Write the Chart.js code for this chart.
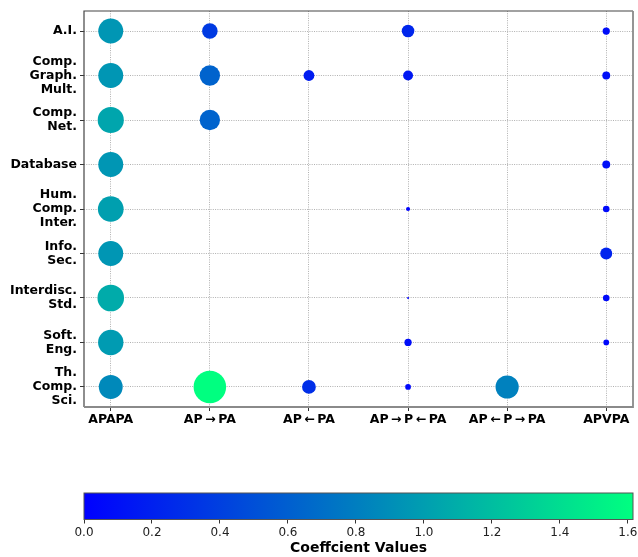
<!DOCTYPE html>
<html>
<head>
<meta charset="UTF-8" />
<title>Coefficient bubbles</title>
<style>
  body { margin: 0; background: #fff; }
  #wrap { position: relative; width: 638px; height: 557px; }
  #main { position: absolute; left: 0; top: 0; }
  #bar { position: absolute; left: 0; top: 480px; }
</style>
<script src="https://cdn.jsdelivr.net/npm/chart.js"></script>
</head>
<body>
<div id="wrap">
  <canvas id="main" width="638" height="460"></canvas>
  <canvas id="bar" width="638" height="77"></canvas>
</div>
<script>
  const topics = [
    "A.I.",
    ["Comp.", "Graph.", "Mult."],
    ["Comp.", "Net."],
    "Database",
    ["Hum.", "Comp.", "Inter."],
    ["Info.", "Sec."],
    ["Interdisc.", "Std."],
    ["Soft.", "Eng."],
    ["Th.", "Comp.", "Sci."]
  ];
  const methods = ["APAPA", "AP\u2009\u2192\u2009PA", "AP\u2009\u2190\u2009PA",
                   "AP\u2009\u2192\u2009P\u2009\u2190\u2009PA", "AP\u2009\u2190\u2009P\u2009\u2192\u2009PA", "APVPA"];

  // one array per method, one value per topic (null = no dot)
  const apapa   = [0.95, 0.95, 1.045, 0.95, 1.01, 0.95, 1.08, 0.98, 0.87];
  const apToPa  = [0.37, 0.63, 0.63, null, null, null, null, null, 1.615];
  const apFromPa = [null, 0.18, null, null, null, null, null, null, 0.29];
  const apPPa   = [0.24, 0.15, null, null, 0.025, null, 0.006, 0.08, 0.05];
  const apPFork = [null, null, null, null, null, null, null, null, 0.82];
  const apvpa   = [0.08, 0.095, null, 0.095, 0.066, 0.22, 0.066, 0.05, null];
  const series = [apapa, apToPa, apFromPa, apPPa, apPFork, apvpa];

  const cbTicks = [0, 0.2, 0.4, 0.6, 0.8, 1.0, 1.2, 1.4, 1.6];
  const vmax = 1.615;

  // matplotlib "winter"
  function winter(v) {
    const t = Math.max(0, Math.min(1, v / vmax));
    return `rgb(0,${Math.round(255 * t)},${Math.round(255 * (1 - 0.5 * t))})`;
  }

  const points = [];
  series.forEach((vals, xi) => {
    vals.forEach((v, yi) => {
      if (v !== null) points.push({ x: xi, y: yi, v: v, r: 12.8 * Math.sqrt(v) });
    });
  });

  const boldFont = { family: "DejaVu Sans", size: 12.5, weight: "bold", lineHeight: 1.12 };
  const gridOpts = { color: "#b0b0b0", lineWidth: 1, tickLength: 4,
                     tickColor: "#333", tickBorderDash: [], tickWidth: 1 };
  // in v4 the grid line dash lives under border
  const borderOpts = { display: false, dash: [1, 1.3] };

  const frame = {
    id: "frame",
    afterDraw(chart) {
      const a = chart.chartArea, c = chart.ctx;
      c.save();
      c.lineWidth = 1.2;
      c.strokeStyle = "#444";
      c.beginPath();
      c.moveTo(a.left, a.bottom); c.lineTo(a.left, a.top); c.lineTo(a.right, a.top);
      c.stroke();
      c.lineWidth = 1.8;
      c.strokeStyle = "#8a8a8a";
      c.beginPath();
      c.moveTo(a.right, a.top); c.lineTo(a.right, a.bottom); c.lineTo(a.left, a.bottom);
      c.stroke();
      c.restore();
    }
  };

  new Chart(document.getElementById("main"), {
    type: "bubble",
    data: {
      datasets: [{
        data: points,
        backgroundColor: ctx => winter(ctx.raw ? ctx.raw.v : 0),
        borderWidth: 0,
        hoverBorderWidth: 0,
        hoverRadius: 0
      }]
    },
    plugins: [frame],
    options: {
      responsive: false,
      animation: false,
      events: [],
      layout: { autoPadding: false, padding: { top: 11, right: 5, left: 0, bottom: 0 } },
      plugins: { legend: { display: false }, tooltip: { enabled: false } },
      scales: {
        x: {
          type: "linear",
          min: -0.27, max: 5.27,
          afterFit: s => { s.height = 53; s.paddingLeft = 0; s.paddingRight = 0; },
          afterBuildTicks: s => { s.ticks = methods.map((m, i) => ({ value: i })); },
          ticks: { callback: v => methods[v], color: "#000", font: boldFont, padding: 2, maxRotation: 0, autoSkip: false },
          grid: gridOpts,
          border: borderOpts
        },
        y: {
          type: "linear",
          reverse: true,
          min: -0.45, max: 8.45,
          afterFit: s => { s.width = 84; s.paddingTop = 0; s.paddingBottom = 0; },
          afterBuildTicks: s => { s.ticks = topics.map((t, i) => ({ value: i })); },
          ticks: { callback: v => topics[v], color: "#000", font: boldFont, padding: 3, autoSkip: false },
          grid: gridOpts,
          border: borderOpts
        }
      }
    }
  });

  const gradient = {
    id: "gradient",
    beforeDatasetsDraw(chart) {
      const a = chart.chartArea, c = chart.ctx, xs = chart.scales.x;
      const g = c.createLinearGradient(xs.getPixelForValue(0), 0, xs.getPixelForValue(vmax), 0);
      for (let i = 0; i <= 10; i++) g.addColorStop(i / 10, winter(vmax * i / 10));
      c.save();
      c.fillStyle = g;
      c.fillRect(a.left, a.top, a.right - a.left, a.bottom - a.top);
      c.lineWidth = 1;
      c.strokeStyle = "#555";
      c.strokeRect(a.left, a.top, a.right - a.left, a.bottom - a.top);
      c.restore();
    }
  };

  new Chart(document.getElementById("bar"), {
    type: "scatter",
    data: { datasets: [{ data: [] }] },
    plugins: [gradient],
    options: {
      responsive: false,
      animation: false,
      events: [],
      layout: { autoPadding: false, padding: { top: 13, right: 5, left: 84, bottom: 0 } },
      plugins: { legend: { display: false }, tooltip: { enabled: false } },
      scales: {
        y: { display: false, min: 0, max: 1 },
        x: {
          type: "linear",
          min: 0, max: vmax,
          afterFit: s => { s.height = 37.5; s.paddingLeft = 0; s.paddingRight = 0; },
          afterBuildTicks: s => { s.ticks = cbTicks.map(v => ({ value: v })); },
          ticks: { callback: v => v.toFixed(1), color: "#222",
                   font: { family: "DejaVu Sans", size: 12 }, padding: 2, maxRotation: 0 },
          grid: { drawOnChartArea: false, tickLength: 4, tickColor: "#333" },
          border: { display: false },
          title: { display: true, text: "Coeffcient Values", color: "#000", padding: 0,
                   font: { family: "DejaVu Sans", size: 14, weight: "bold" } }
        }
      }
    }
  });
</script>
</body>
</html>
